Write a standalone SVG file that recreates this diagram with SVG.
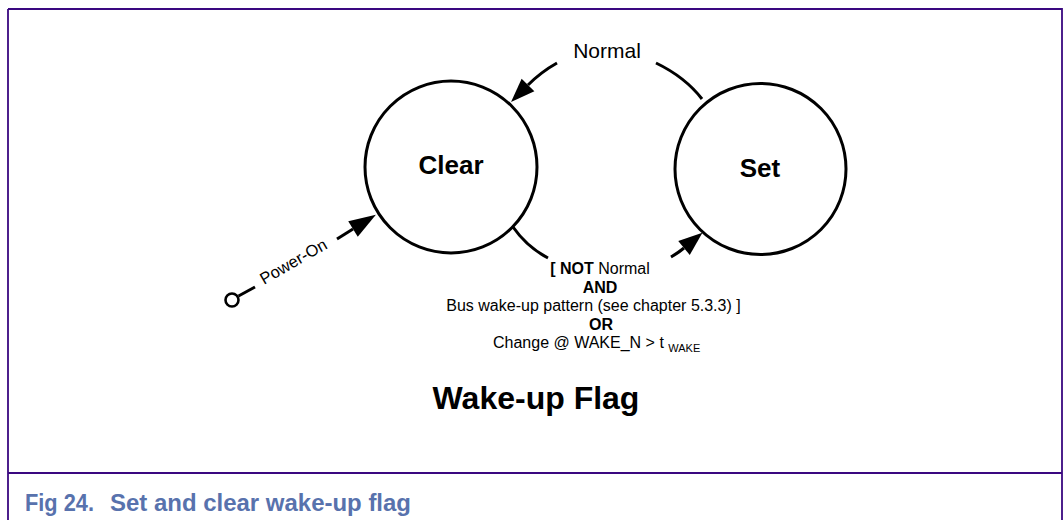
<svg xmlns="http://www.w3.org/2000/svg" width="1063" height="520" viewBox="0 0 1063 520">
<style>
.frame{stroke:#3a0880;stroke-width:1.8;fill:none}
.state{fill:#fff;stroke:#000;stroke-width:3}
.conn{fill:none;stroke:#000;stroke-width:3}
.t{font-family:"Liberation Sans",Arial,sans-serif;fill:#000}
.b{font-weight:bold}
.cap{font-family:"Liberation Sans",Arial,sans-serif;font-weight:bold;fill:#5872ad;font-size:23px}
</style>
<defs>
<marker id="arr" markerUnits="userSpaceOnUse" markerWidth="28" markerHeight="20" refX="0" refY="9" orient="auto" overflow="visible">
<path d="M0,0 L24,9 L0,18 z" fill="#000"/>
</marker>
<marker id="arrL" markerUnits="userSpaceOnUse" markerWidth="30" markerHeight="20" refX="0" refY="9" orient="auto" overflow="visible">
<path d="M0,0 L27,9 L0,18 z" fill="#000"/>
</marker>
</defs>
<rect width="1063" height="520" fill="#fff"/>
<g id="frame">
<path class="frame" d="M8,9 H1062 V520 M8,9 V520 M8,473 H1062"/>
</g>
<g id="connectors">
<path class="conn" d="M557,63 Q541,72 528,85" marker-end="url(#arr)"/>
<path class="conn" d="M656,63 Q685,77 702,99"/>
<path class="conn" d="M513,227 Q527,247 548,258"/>
<path class="conn" d="M671,257 Q678,253 684,248" marker-end="url(#arr)"/>
<circle cx="232" cy="300" r="6.5" fill="#fff" stroke="#000" stroke-width="2.6"/>
<path class="conn" d="M238.5,296 L255,287"/>
<path class="conn" d="M337,239 L353,229" marker-end="url(#arrL)"/>
<text class="t" font-size="16.5" transform="translate(264,285) rotate(-30)">Power-On</text>
<text class="t" font-size="21" x="607" y="58" text-anchor="middle">Normal</text>
<text class="t" font-size="16" x="600" y="274" text-anchor="middle"><tspan class="b">[ NOT</tspan> Normal</text>
<text class="t b" font-size="16" x="600" y="292.5" text-anchor="middle">AND</text>
<text class="t" font-size="16" x="593.5" y="311" text-anchor="middle">Bus wake-up pattern (see chapter 5.3.3) ]</text>
<text class="t b" font-size="16" x="601" y="329.5" text-anchor="middle">OR</text>
<text class="t" font-size="16" x="493" y="348">Change @ WAKE_N &gt; t <tspan font-size="11" dy="4">WAKE</tspan></text>
</g>
<g id="clear">
<circle class="state" cx="451" cy="167" r="86"/>
<text class="t b" font-size="26" x="451" y="174" text-anchor="middle">Clear</text>
</g>
<g id="set">
<circle class="state" cx="760.5" cy="169" r="85.5"/>
<text class="t b" font-size="26" x="760" y="177" text-anchor="middle">Set</text>
</g>
<g id="title">
<text class="t b" font-size="32" x="536" y="409" text-anchor="middle">Wake-up Flag</text>
</g>
<g id="caption">
<text class="cap" x="25" y="511" textLength="69" lengthAdjust="spacingAndGlyphs">Fig 24.</text>
<text class="cap" x="110" y="511" textLength="301" lengthAdjust="spacingAndGlyphs">Set and clear wake-up flag</text>
</g>
</svg>
